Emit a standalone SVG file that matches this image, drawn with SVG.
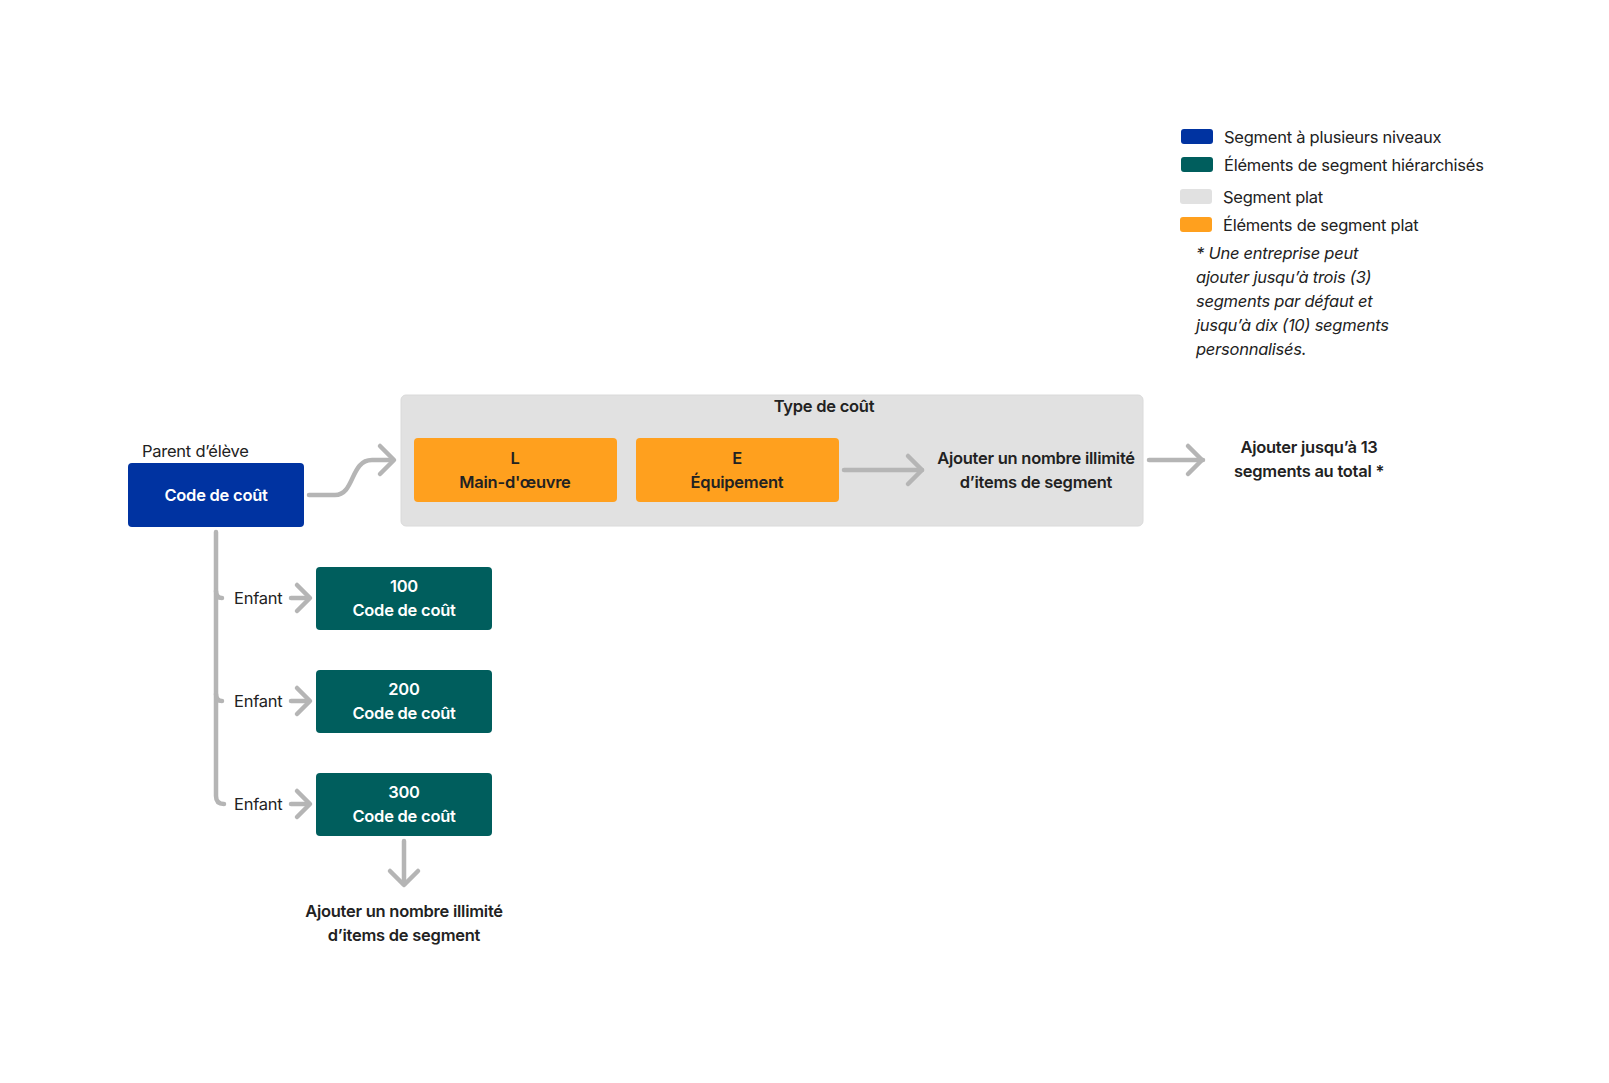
<svg xmlns="http://www.w3.org/2000/svg" width="1609" height="1083" viewBox="0 0 1609 1083">
<style>
text{font-family:Inter,"Noto Sans","Liberation Sans",sans-serif;fill:#222;font-size:16.5px;letter-spacing:-0.25px}
.b{font-weight:600;text-anchor:middle}
.w{fill:#fff}
.it{font-style:italic}
.c{fill:none;stroke:#b5b5b5;stroke-width:4.5;stroke-linecap:round;stroke-linejoin:round}
.blue{fill:#0033a1}
.green{fill:#005e5d}
.orange{fill:#ffa01e}
.grey{fill:#e1e1e1}
</style>
<rect width="1609" height="1083" fill="#fff"/>
<g id="legend">
<rect class="blue" x="1181" y="129" width="32" height="15" rx="3"/>
<text x="1224" y="143">Segment à plusieurs niveaux</text>
<rect class="green" x="1181" y="157" width="32" height="15" rx="3"/>
<text x="1224" y="171">Éléments de segment hiérarchisés</text>
<rect class="grey" x="1180" y="189" width="32" height="15" rx="3"/>
<text x="1223" y="203">Segment plat</text>
<rect class="orange" x="1180" y="217" width="32" height="15" rx="3"/>
<text x="1223" y="231">Éléments de segment plat</text>
<text class="it" x="1196" y="259">* Une entreprise peut</text>
<text class="it" x="1196" y="283">ajouter jusqu’à trois (3)</text>
<text class="it" x="1196" y="307">segments par défaut et</text>
<text class="it" x="1196" y="331">jusqu’à dix (10) segments</text>
<text class="it" x="1196" y="355">personnalisés.</text>
</g>
<g id="type-de-cout">
<rect class="grey" x="401" y="395" width="742" height="131" rx="5" stroke="#dadada" stroke-width="1"/>
<text class="b" x="824" y="412">Type de coût</text>
</g>
<g id="parent">
<text x="142" y="457">Parent d’élève</text>
<rect class="blue" x="128" y="463" width="176" height="64" rx="4"/>
<text class="b w" x="216" y="501">Code de coût</text>
</g>
<g id="node-L">
<rect class="orange" x="414" y="438" width="203" height="64" rx="4"/>
<text class="b" x="515" y="464">L</text>
<text class="b" x="515" y="488">Main-d'œuvre</text>
</g>
<g id="node-E">
<rect class="orange" x="636" y="438" width="203" height="64" rx="4"/>
<text class="b" x="737" y="464">E</text>
<text class="b" x="737" y="488">Équipement</text>
</g>
<g id="add-flat">
<text class="b" x="1036" y="464">Ajouter un nombre illimité</text>
<text class="b" x="1036" y="488">d’items de segment</text>
</g>
<g id="add-total">
<text class="b" x="1309" y="453">Ajouter jusqu’à 13</text>
<text class="b" x="1309" y="477">segments au total *</text>
</g>
<g id="child-100">
<rect class="green" x="316" y="567" width="176" height="63" rx="4"/>
<text class="b w" x="404" y="592">100</text>
<text class="b w" x="404" y="616">Code de coût</text>
</g>
<g id="child-200">
<rect class="green" x="316" y="670" width="176" height="63" rx="4"/>
<text class="b w" x="404" y="695">200</text>
<text class="b w" x="404" y="719">Code de coût</text>
</g>
<g id="child-300">
<rect class="green" x="316" y="773" width="176" height="63" rx="4"/>
<text class="b w" x="404" y="798">300</text>
<text class="b w" x="404" y="822">Code de coût</text>
</g>
<g id="add-hier">
<text class="b" x="404" y="917">Ajouter un nombre illimité</text>
<text class="b" x="404" y="941">d’items de segment</text>
</g>
<g id="connectors">
<path class="c" d="M309,495 H335 C355,495 350,460 372,460 H393"/>
<path class="c" d="M380,446 L394,460 L380,474"/>
<path class="c" d="M844,470 H922"/>
<path class="c" d="M908,456 L922,470 L908,484"/>
<path class="c" d="M1149,460 H1203"/>
<path class="c" d="M1188,446 L1202,460 L1188,474"/>
<path class="c" d="M216,532 V796 Q216,804 224,804"/>
<path class="c" d="M216,591 Q216,598 222,598"/>
<path class="c" d="M216,694 Q216,701 222,701"/>
<text x="234" y="604">Enfant</text>
<text x="234" y="707">Enfant</text>
<text x="234" y="810">Enfant</text>
<path class="c" d="M291,598 H309"/>
<path class="c" d="M297,585 L310,598 L297,611"/>
<path class="c" d="M291,701 H309"/>
<path class="c" d="M297,688 L310,701 L297,714"/>
<path class="c" d="M291,804 H309"/>
<path class="c" d="M297,791 L310,804 L297,817"/>
<path class="c" d="M404,841 V884"/>
<path class="c" d="M390,871 L404,885 L418,871"/>
</g>
</svg>
